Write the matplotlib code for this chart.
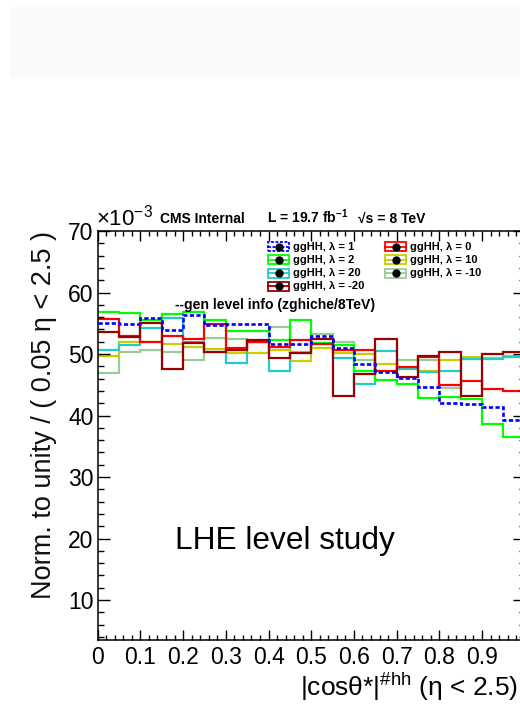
import numpy as np
import matplotlib
matplotlib.use("Agg")
import matplotlib.pyplot as plt
from matplotlib.patches import Rectangle
from matplotlib.lines import Line2D

plt.rcParams['font.family'] = ['Liberation Sans', 'DejaVu Sans']
plt.rcParams['mathtext.fontset'] = 'custom'
plt.rcParams['mathtext.rm'] = 'Liberation Sans'
plt.rcParams['mathtext.it'] = 'Liberation Sans:italic'
plt.rcParams['mathtext.bf'] = 'Liberation Sans:bold'

# |cos theta*| binning, 0.05 wide
bin_edges = np.linspace(0.0, 1.0, 21)

# normalised yields, units of 1e-3
lam_1 = [55.1, 54.9, 55.9, 53.9, 56.3, 54.7, 54.9, 54.9, 51.7, 51.6,
         53.0, 50.9, 48.3, 47.0, 46.1, 44.6, 42.1, 41.8, 41.4, 39.2]
lam_0 = [55.7, 53.0, 52.0, 53.0, 52.4, 54.9, 50.9, 52.0, 51.2, 52.3,
         51.6, 50.6, 50.6, 47.3, 47.9, 49.5, 45.0, 45.6, 44.3, 44.0]
lam_2 = [56.9, 56.7, 55.6, 56.5, 56.9, 55.5, 53.8, 53.8, 52.2, 55.5,
         51.8, 51.5, 47.3, 45.8, 45.2, 42.9, 43.0, 42.7, 38.6, 36.5]
lam_10 = [49.7, 51.9, 52.0, 51.6, 51.2, 50.8, 50.2, 50.1, 50.6, 48.9,
          51.0, 50.1, 50.0, 48.3, 47.5, 47.3, 49.0, 49.5, 49.4, 49.7]
lam_20 = [50.6, 51.5, 54.2, 55.8, 52.0, 50.3, 48.6, 51.9, 47.3, 50.2,
          51.8, 49.4, 45.1, 50.5, 47.6, 47.0, 47.3, 49.2, 49.2, 49.5]
lam_m10 = [46.9, 50.4, 50.6, 50.4, 49.1, 52.6, 52.4, 52.0, 54.4, 50.4,
           53.2, 51.9, 49.1, 47.3, 49.0, 49.1, 44.4, 49.2, 49.3, 49.6]
lam_m20 = [53.5, 52.8, 55.1, 47.5, 51.8, 50.4, 50.6, 52.3, 49.3, 50.1,
           52.5, 43.1, 46.8, 52.5, 46.3, 49.7, 50.3, 43.2, 50.0, 50.3]

labels = ['ggHH, λ = 1', 'ggHH, λ = 0', 'ggHH, λ = 2', 'ggHH, λ = 10',
          'ggHH, λ = 20', 'ggHH, λ = -10', 'ggHH, λ = -20']
series = [lam_1, lam_0, lam_2, lam_10, lam_20, lam_m10, lam_m20]
colors = ['#0000ff', '#ff0000', '#00ff00', '#cccc00',
          '#22cccc', '#99cc99', '#990000']

W, H = 520, 707
fig = plt.figure(figsize=(W / 100, H / 100), dpi=100)


def fx(px):
    return px / W


def fy(py):
    return 1 - py / H


# faint slide band at the top
fig.add_artist(Rectangle((fx(10), fy(77)), fx(510), 70 / H,
                         transform=fig.transFigure, facecolor='#fafafa',
                         edgecolor='none', zorder=0))

ax = fig.add_axes([fx(97.7), fy(640), fx(427), (640 - 231) / H])

draw_order = [5, 3, 4, 2, 1, 6, 0]
for i in draw_order:
    kw = dict(color=colors[i], linewidth=1.6, baseline=None)
    if i == 0:
        kw.update(linestyle=(0, (1.6, 0.9)), linewidth=1.9)
    ax.stairs(series[i], bin_edges, **kw)

ax.set_xlim(0, 1)
ax.set_ylim(3.5, 70)
ax.set_xticks(np.arange(0, 1.0, 0.1))
ax.set_xticklabels(['0', '0.1', '0.2', '0.3', '0.4', '0.5', '0.6', '0.7', '0.8', '0.9'])
ax.set_xticks(np.arange(0, 1.0001, 0.02), minor=True)
ax.set_yticks(np.arange(10, 71, 10))
ax.set_yticks(np.arange(4, 71, 2), minor=True)
ax.tick_params(which='both', direction='in', top=True, right=True,
               labelsize=16.5, width=1.0, color='black')
ax.tick_params(axis='x', which='major', length=7, pad=4)
ax.tick_params(axis='x', which='minor', length=3.6)
ax.tick_params(axis='y', which='major', length=8.6, pad=3)
ax.tick_params(axis='y', which='minor', length=4.3)
for sp in ax.spines.values():
    sp.set_linewidth(1.1)

# axis titles
fig.text(fx(518), fy(687), r'|cosθ*|$^{\#\mathrm{hh}}$ (η < 2.5)', fontsize=19,
         ha='right', va='center')
fig.text(fx(44), fy(231), 'Norm. to unity / ( 0.05 η < 2.5 )', fontsize=19.5,
         rotation=90, ha='center', va='top', color='#111111')

# header
fig.text(fx(96), fy(226), r'×10$^{\mathrm{-3}}$', fontsize=16, ha='left', va='baseline')
fig.text(fx(160), fy(223), 'CMS Internal', fontsize=10, fontweight='bold', va='baseline')
fig.text(fx(267), fy(223), r'L = 19.7 fb$^{\mathbf{-1}}$', fontsize=10,
         fontweight='bold', va='baseline')
fig.text(fx(358), fy(223), '√s = 8 TeV', fontsize=10, fontweight='bold', va='baseline')

# legend, two columns
legend_pos = [(268, 246.5), (385, 246.5), (268, 259.8), (385, 259.8),
              (268, 273.1), (385, 273.1), (268, 286.4)]
for (bx, by), lab, c, i in zip(legend_pos, labels, colors, range(7)):
    ls = (0, (1.6, 0.9)) if i == 0 else '-'
    fig.add_artist(Rectangle((fx(bx), fy(by + 4.5)), fx(21), 9 / H,
                             transform=fig.transFigure, facecolor='white',
                             edgecolor=c, linewidth=1.3, linestyle=ls))
    fig.add_artist(Line2D([fx(bx), fx(bx + 21)], [fy(by), fy(by)],
                          transform=fig.transFigure, color=c, linewidth=1.3,
                          linestyle=ls))
    fig.add_artist(Line2D([fx(bx + 10.5)], [fy(by)], transform=fig.transFigure,
                          marker='o', markersize=5, color='black'))
    fig.text(fx(bx + 25), fy(by), lab, fontsize=8, fontweight='bold',
             va='center', ha='left')

fig.text(fx(175), fy(305), '--gen level info (zghiche/8TeV)', fontsize=10.1,
         fontweight='bold', va='center', ha='left')
fig.text(fx(175), fy(541), 'LHE level study', fontsize=22.8, va='center', ha='left')

fig.savefig('out.png', dpi=100)
